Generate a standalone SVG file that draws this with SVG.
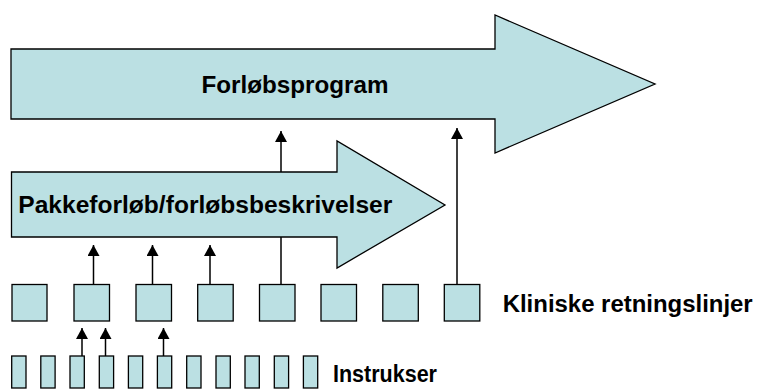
<svg xmlns="http://www.w3.org/2000/svg" width="761" height="390" viewBox="0 0 761 390">
<style>
.shape{fill:#BBE0E3;stroke:#000;stroke-width:1.3}
.lbl{font-family:"Liberation Sans",Arial,sans-serif;font-weight:bold;font-size:23.5px;fill:#000}
.con{stroke:#000;stroke-width:1.5;fill:none;marker-end:url(#ah)}
</style>
<defs>
<marker id="ah" markerUnits="userSpaceOnUse" markerWidth="12" markerHeight="12" refX="10" refY="5.5" orient="auto" viewBox="0 0 10 11">
<path d="M0,0 L10,5.5 L0,11 Z" fill="#000"/>
</marker>
</defs>
<rect width="761" height="390" fill="#fff"/>
<g id="forlobsprogram">
<path class="shape" d="M11,49 H495 V15 L655,84 L495,153 V119 H11 Z"/>
<text class="lbl" x="201.5" y="93" textLength="187" lengthAdjust="spacingAndGlyphs">Forløbsprogram</text>
</g>
<g id="connectors">
<line class="con" x1="281" y1="284" x2="281" y2="131"/>
<line class="con" x1="457" y1="284" x2="457" y2="128"/>
<line class="con" x1="93.5" y1="284" x2="93.5" y2="245"/>
<line class="con" x1="152.5" y1="284" x2="152.5" y2="245"/>
<line class="con" x1="210" y1="284" x2="210" y2="245"/>
<line class="con" x1="82" y1="356" x2="82" y2="328"/>
<line class="con" x1="105.5" y1="356" x2="105.5" y2="328"/>
<line class="con" x1="163.5" y1="356" x2="163.5" y2="328"/>
</g>
<g id="pakkeforlob">
<path class="shape" d="M11.5,172 H337 V141 L445,205 L337,268 V237 H11.5 Z"/>
<text class="lbl" x="18.3" y="213.3" textLength="374" lengthAdjust="spacingAndGlyphs">Pakkeforløb/forløbsbeskrivelser</text>
</g>
<g id="kliniske">
<rect class="shape" x="12" y="284.5" width="35" height="36.5"/>
<rect class="shape" x="74" y="284.5" width="35.5" height="36.5"/>
<rect class="shape" x="136" y="284.5" width="35.5" height="36.5"/>
<rect class="shape" x="197.7" y="284.5" width="35.5" height="36.5"/>
<rect class="shape" x="259.5" y="284.5" width="35.5" height="36.5"/>
<rect class="shape" x="321" y="284.5" width="35.5" height="36.5"/>
<rect class="shape" x="382.8" y="284.5" width="35.5" height="36.5"/>
<rect class="shape" x="444.3" y="284.5" width="35.5" height="36.5"/>
<text class="lbl" x="502.7" y="311.7" textLength="250" lengthAdjust="spacingAndGlyphs">Kliniske retningslinjer</text>
</g>
<g id="instrukser">
<rect class="shape" x="11.7" y="356" width="14.3" height="32"/>
<rect class="shape" x="40.8" y="356" width="14.3" height="32"/>
<rect class="shape" x="70" y="356" width="14.3" height="32"/>
<rect class="shape" x="99.3" y="356" width="14.3" height="32"/>
<rect class="shape" x="128.4" y="356" width="14.3" height="32"/>
<rect class="shape" x="157.4" y="356" width="14.3" height="32"/>
<rect class="shape" x="186.7" y="356" width="14.3" height="32"/>
<rect class="shape" x="216" y="356" width="14.3" height="32"/>
<rect class="shape" x="245" y="356" width="14.3" height="32"/>
<rect class="shape" x="274.3" y="356" width="14.3" height="32"/>
<rect class="shape" x="303.4" y="356" width="14.3" height="32"/>
<text class="lbl" x="333" y="381.7" textLength="104" lengthAdjust="spacingAndGlyphs">Instrukser</text>
</g>
</svg>
